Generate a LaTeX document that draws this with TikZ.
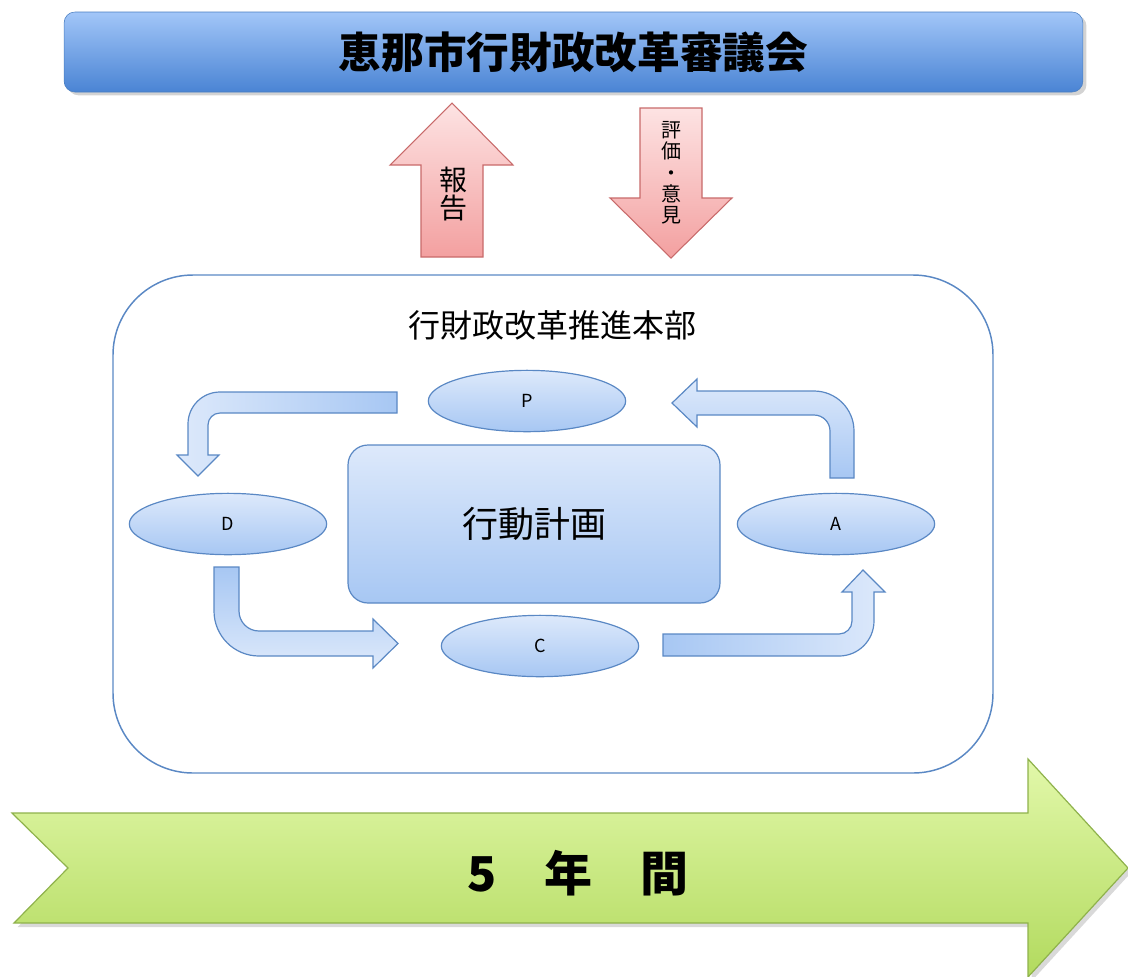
\documentclass[tikz,border=0pt]{standalone}
\usepackage{fontspec}
\setmainfont{Noto Sans CJK JP}
\usepackage{tikz}
\usetikzlibrary{shapes}
\usetikzlibrary{shadows}

\definecolor{barTop}{HTML}{A2C6F8}
\definecolor{barBottom}{HTML}{4A84D4}
\definecolor{barLine}{HTML}{4A7EC0}
\definecolor{cellTop}{HTML}{DDE9FB}
\definecolor{cellBottom}{HTML}{A7C7F3}
\definecolor{cellLine}{HTML}{5A88C4}
\definecolor{pinkTop}{HTML}{FDE3E3}
\definecolor{pinkBottom}{HTML}{F3A0A0}
\definecolor{pinkLine}{HTML}{C86A6A}
\definecolor{greenTop}{HTML}{E2F8AA}
\definecolor{greenBottom}{HTML}{B2DA5E}
\definecolor{greenLine}{HTML}{8FB24C}

\begin{document}
\begin{tikzpicture}[x=0.75pt, y=-0.75pt,
    phase/.style={ellipse, draw=cellLine, line width=0.9pt, top color=cellTop, bottom color=cellBottom,
      minimum width=148pt, minimum height=46pt, inner sep=0pt, font=\fontsize{13.5}{13.5}\selectfont},
    cyclearrow/.style={draw=cellLine, line width=0.9pt, line join=miter},
    upward/.style={draw=pinkLine, line width=0.8pt, top color=pinkTop, bottom color=pinkBottom}
    ]
    \useasboundingbox (0,0) rectangle (1128,976);

    \node[rounded corners=8pt, draw=barLine, top color=barTop, bottom color=barBottom,
      minimum width=764pt, minimum height=60pt, drop shadow={opacity=0.35, shadow yshift=-2.5pt},
      font=\bfseries\fontsize{32}{32}\selectfont] (council) at (573.5,52) {恵那市行財政改革審議会};

    \path[upward] (452,103) -- (513,165) -- (483,165) -- (483,257) -- (421,257) -- (421,165) -- (390,165) -- cycle;
    \node[font=\fontsize{21}{21}\selectfont, align=center] (report) at (453,194) {報\\告};
    \path[upward] (640,108) -- (702,108) -- (702,198) -- (732,198) -- (671,258) -- (610,198) -- (640,198) -- cycle;
    \node[font=\fontsize{15}{16}\selectfont, align=center] (review) at (671,173) {評\\価\\・\\意\\見};

    \node[draw=cellLine, line width=1.1pt, rounded corners=60pt, minimum width=660pt, minimum height=373.5pt] (hq) at (553,524) {};
    \node[font=\fontsize{24}{24}\selectfont] (hqname) at (552,325) {行財政改革推進本部};

    \node[draw=cellLine, line width=0.9pt, rounded corners=15pt, top color=cellTop, bottom color=cellBottom,
      minimum width=279pt, minimum height=118.5pt, font=\fontsize{27}{27}\selectfont] (plan) at (534,524) {行動計画};

    \node[phase] (p) at (527,401) {P};
    \node[phase] (d) at (228,524) {D};
    \node[phase] (a) at (836,524) {A};
    \node[phase] (c) at (540,646) {C};

    \path[cyclearrow, left color=cellTop, right color=cellBottom] (397,392) -- (220,392) arc[start angle=90, end angle=180, radius=24pt]
      -- (188,455) -- (177,455) -- (198,476) -- (219,455) -- (208,455) -- (208,425)
      arc[start angle=180, end angle=90, radius=9pt] -- (397,413) -- cycle;
    \path[cyclearrow, top color=cellBottom, bottom color=cellTop] (214,567) -- (214,611) arc[start angle=180, end angle=270, radius=33.75pt]
      -- (373,656) -- (373,668) -- (398,643.5) -- (373,619) -- (373,631) -- (259,631)
      arc[start angle=270, end angle=180, radius=15pt] -- (239,567) -- cycle;
    \path[cyclearrow, left color=cellBottom, right color=cellTop] (663,634) -- (839,634) arc[start angle=270, end angle=360, radius=9.75pt]
      -- (852,592) -- (842,592) -- (863,570) -- (885,592) -- (874,592) -- (874,621)
      arc[start angle=0, end angle=-90, radius=26.25pt] -- (663,656) -- cycle;
    \path[cyclearrow, top color=cellTop, bottom color=cellBottom] (830,478) -- (830,431) arc[start angle=0, end angle=90, radius=12pt]
      -- (697,415) -- (697,427) -- (672,403) -- (697,379) -- (697,391) -- (814,391)
      arc[start angle=90, end angle=0, radius=30pt] -- (854,478) -- cycle;

    \path[draw=greenLine, line width=0.9pt, top color=greenTop, bottom color=greenBottom,
      drop shadow={opacity=0.3, shadow yshift=-3pt}]
      (12,813) -- (1028,813) -- (1028,759) -- (1128,868) -- (1028,977) -- (1028,923) -- (14,923) -- (68,868) -- cycle;
    \node[font=\bfseries\fontsize{36}{36}\selectfont] (term) at (578,873) {5　年　間};
  \end{tikzpicture}
\end{document}
